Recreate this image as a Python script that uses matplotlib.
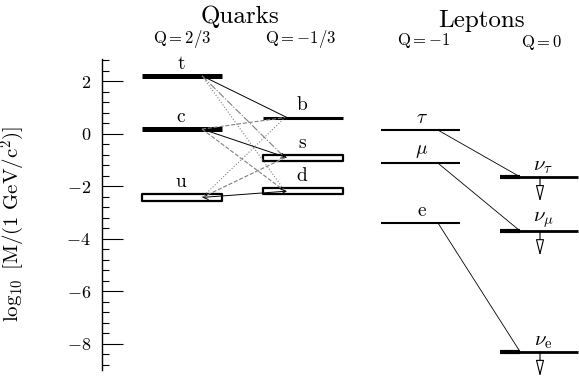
import matplotlib
matplotlib.use('Agg')
import matplotlib.pyplot as plt
from matplotlib.patches import Rectangle
from matplotlib.ticker import MultipleLocator

plt.rcParams['font.family'] = ['cmr10']
plt.rcParams['mathtext.fontset'] = 'cm'
plt.rcParams['axes.formatter.use_mathtext'] = True

# log10 of masses in GeV/c^2 (lo, hi) -- a range is drawn as an open box
up_names = ['u', 'c', 't']
up_lo = [-2.55, 0.18, 2.21]
up_hi = [-2.30, 0.18, 2.21]

down_names = ['d', 's', 'b']
down_lo = [-2.30, -1.02, 0.62]
down_hi = [-2.07, -0.80, 0.62]

lep_names = [r'$\mathrm{e}$', r'$\mu$', r'$\tau$']
lep_mass = [-3.40, -1.12, 0.14]

nu_names = [r'$\nu_\mathrm{e}$', r'$\nu_\mu$', r'$\nu_\tau$']
nu_limit = [-8.30, -3.70, -1.64]

# mixing links: (up index, down index, linestyle)
mixing = [
    (2, 2, '-'), (2, 1, '-.'), (2, 0, ':'),
    (1, 1, '-'), (1, 2, '--'), (1, 0, '--'),
    (0, 0, '-'), (0, 1, '--'), (0, 2, ':'),
]

# column layout (x in axes units)
col_up = (142, 222)
col_down = (263, 343)
col_lep = (381, 460)
col_nu = (500, 578)

fig = plt.figure(figsize=(5.79, 3.78), dpi=100)
ax = fig.add_axes([102 / 579, 8 / 378, 477 / 579, 311 / 378])
ax.set_xlim(102, 579)
ax.set_ylim(-9.0, 2.85)


def level(col, lo, hi, lw, box_lw=1.6):
    if hi - lo < 0.01:
        ax.plot(col, [lo, lo], color='black', lw=lw, solid_capstyle='butt')
    else:
        ax.add_patch(Rectangle((col[0], lo), col[1] - col[0], hi - lo,
                               fc='white', ec='black', lw=box_lw,
                               joinstyle='round', zorder=3))


def label(x, y, s, size=14):
    ax.text(x, y + 0.12, s, ha='center', va='bottom', fontsize=size)


for i, n in enumerate(up_names):
    level(col_up, up_lo[i], up_hi[i], lw=3.6)
    label(181, up_hi[i], n)
for i, n in enumerate(down_names):
    level(col_down, down_lo[i], down_hi[i], lw=2.2)
    label(302, down_hi[i], n)
for i, n in enumerate(lep_names):
    level(col_lep, lep_mass[i], lep_mass[i], lw=1.5)
    label(422, lep_mass[i], n)
for i, n in enumerate(nu_names):
    level(col_nu, nu_limit[i], nu_limit[i], lw=2.0)
    ax.plot([500, 520], [nu_limit[i]] * 2, color='black', lw=3.0,
            solid_capstyle='butt')
    label(543, nu_limit[i] - 0.08, n, size=15)
    # upper limit arrow
    ax.annotate('', xy=(540, nu_limit[i] - 0.95), xytext=(540, nu_limit[i]),
                annotation_clip=False,
                arrowprops=dict(arrowstyle='-|>,head_length=1.0,head_width=0.25',
                                mutation_scale=10, fc='white', ec='black',
                                lw=0.8, shrinkA=0, shrinkB=0))

# quark mixing
for iu, idn, ls in mixing:
    yu = (up_lo[iu] + up_hi[iu]) / 2
    yd = (down_lo[idn] + down_hi[idn]) / 2
    if ls == '-':
        style = '<->' if iu == 0 else '->'
        if iu == 2:
            style = '-'
        ax.annotate('', xy=(287, yd), xytext=(202, yu),
                    arrowprops=dict(arrowstyle=style, color='black', lw=0.7,
                                    shrinkA=0, shrinkB=0,
                                    mutation_scale=9), zorder=4)
    else:
        ax.plot([202, 285], [yu, yd], color='0.5', lw=0.8, ls=ls, zorder=4)

# lepton links
for i in range(3):
    ax.plot([438, 520], [lep_mass[i], nu_limit[i]], color='black', lw=0.6)

# headers
ax.text(240, 4.45, 'Quarks', ha='center', va='center', fontsize=18)
ax.text(482, 4.30, 'Leptons', ha='center', va='center', fontsize=18)
ax.text(182, 3.62, r'$\mathrm{Q}=2/3$', ha='center', va='center', fontsize=12)
ax.text(300, 3.62, r'$\mathrm{Q}=-1/3$', ha='center', va='center', fontsize=12)
ax.text(424, 3.55, r'$\mathrm{Q}=-1$', ha='center', va='center', fontsize=12)
ax.text(542, 3.48, r'$\mathrm{Q}=0$', ha='center', va='center', fontsize=12)

for side in ['top', 'right', 'bottom']:
    ax.spines[side].set_visible(False)
ax.spines['left'].set_linewidth(1.0)
ax.set_xticks([])
ax.yaxis.set_major_locator(MultipleLocator(2))
ax.yaxis.set_minor_locator(MultipleLocator(0.4))
ax.tick_params(axis='y', which='major', direction='in', length=15, width=0.8,
               labelsize=13, pad=8)
ax.tick_params(axis='y', which='minor', direction='in', length=5, width=0.8)

ax.set_ylabel(r'$\log_{10}\ [\mathrm{M}/(1\ \mathrm{GeV}/\mathrm{c}^2)]$',
              fontsize=15)
ax.yaxis.set_label_coords(-75 / 477, 0.47)

fig.savefig('out.png', dpi=100)
